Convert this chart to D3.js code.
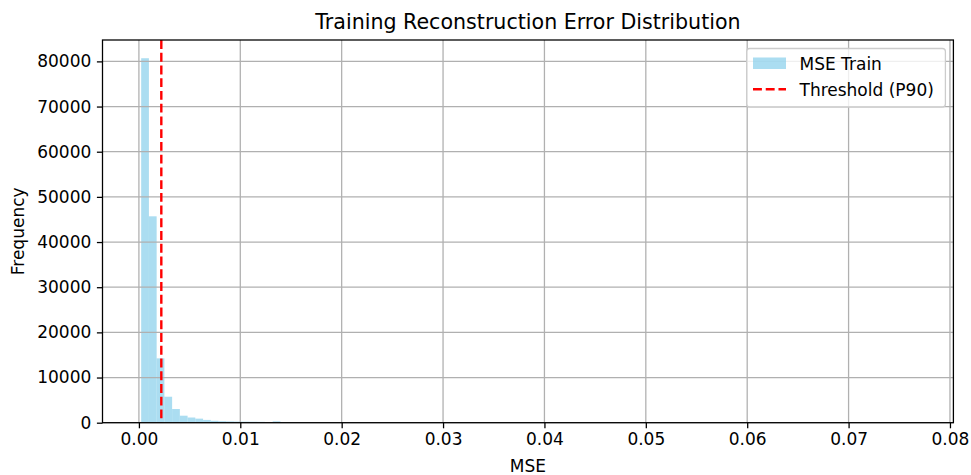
<!DOCTYPE html>
<html>
<head>
<meta charset="utf-8">
<script src="https://cdn.jsdelivr.net/npm/d3@7"></script>
<style>
  html, body { margin: 0; padding: 0; background: #fff; }
  svg text { font-family: "DejaVu Sans", sans-serif; fill: #000; }
</style>
</head>
<body>
<svg id="chart" width="971" height="475"></svg>
<script>
// histogram of training MSE, 100 bins
const binStart = 0.000224;
const binWidth = 0.000763;
const counts = [
  80700, 45700, 14250, 5750, 3030, 1550, 1150, 900, 620, 420,
  330, 280, 250, 230, 210, 190, 40, 300, 60, 30,
  20, 15, 10, 8, 6, 5, 4, 3, 3, 2,
  2, 2, 1, 1, 1, 1, 0, 1, 0, 1,
  0, 0, 1, 0, 0, 1, 0, 0, 0, 1,
  0, 0, 0, 0, 1, 0, 0, 0, 0, 0,
  1, 0, 0, 0, 0, 0, 0, 0, 0, 0,
  0, 1, 0, 0, 0, 0, 0, 0, 0, 0,
  0, 0, 0, 0, 0, 0, 0, 0, 0, 0,
  0, 0, 0, 0, 0, 0, 0, 0, 0, 1
];
const threshold = 0.00221;
const xTicks = [0, 0.01, 0.02, 0.03, 0.04, 0.05, 0.06, 0.07, 0.08];
const yTicks = [0, 10000, 20000, 30000, 40000, 50000, 60000, 70000, 80000];
const legendLabels = ["MSE Train", "Threshold (P90)"];

const bins = counts.map((c, i) => ({ x0: binStart + i * binWidth, x1: binStart + (i + 1) * binWidth, count: c }));

const svg = d3.select("#chart");
const plot = { left: 102.5, right: 953.4, top: 40, bottom: 422.7 };
const fs = 17;

// matplotlib style 5% margins on x, 5% headroom on y
const dataMin = bins[0].x0, dataMax = bins[bins.length - 1].x1;
const pad = (dataMax - dataMin) * 0.05;
const x = d3.scaleLinear().domain([dataMin - pad, dataMax + pad]).range([plot.left, plot.right]);
const y = d3.scaleLinear().domain([0, d3.max(counts) * 1.05]).range([plot.bottom, plot.top]);

const g = svg.append("g");

// bars
g.append("g").selectAll("rect").data(bins).join("rect")
  .attr("x", d => x(d.x0))
  .attr("width", d => x(d.x1) - x(d.x0))
  .attr("y", d => y(d.count))
  .attr("height", d => plot.bottom - y(d.count))
  .attr("fill", "skyblue")
  .attr("fill-opacity", 0.7);

// grid (above bars like matplotlib)
const grid = g.append("g").attr("stroke", "#b0b0b0").attr("stroke-width", 1.28);
grid.selectAll(".vg").data(xTicks).join("line").attr("class", "vg")
  .attr("x1", d => x(d)).attr("x2", d => x(d))
  .attr("y1", plot.top).attr("y2", plot.bottom);
grid.selectAll(".hg").data(yTicks).join("line").attr("class", "hg")
  .attr("x1", plot.left).attr("x2", plot.right)
  .attr("y1", d => y(d)).attr("y2", d => y(d));

// threshold line
g.append("line")
  .attr("x1", x(threshold)).attr("x2", x(threshold))
  .attr("y1", plot.top).attr("y2", plot.bottom)
  .attr("stroke", "red").attr("stroke-width", 2.4)
  .attr("stroke-dasharray", "8.9,3.84");

// axes
const xAxis = d3.axisBottom(x).tickValues(xTicks).tickFormat(d3.format(".2f")).tickSize(5.6).tickPadding(4.5);
const yAxis = d3.axisLeft(y).tickValues(yTicks).tickFormat(d3.format("d")).tickSize(5.6).tickPadding(5.6);

const gx = svg.append("g").attr("transform", `translate(0,${plot.bottom})`).call(xAxis);
const gy = svg.append("g").attr("transform", `translate(${plot.left},0)`).call(yAxis);
[gx, gy].forEach(a => {
  a.select(".domain").remove();
  a.selectAll(".tick line").attr("stroke", "#000").attr("stroke-width", 1.28);
  a.selectAll(".tick text").style("font-size", fs + "px").attr("fill", "#000");
});

// spines
svg.append("rect")
  .attr("x", plot.left).attr("y", plot.top)
  .attr("width", plot.right - plot.left).attr("height", plot.bottom - plot.top)
  .attr("fill", "none").attr("stroke", "#000").attr("stroke-width", 1.28);

// title and labels
svg.append("text")
  .attr("x", (plot.left + plot.right) / 2).attr("y", 28.5)
  .attr("text-anchor", "middle")
  .style("font-size", "20.6px")
  .text("Training Reconstruction Error Distribution");

svg.append("text")
  .attr("x", (plot.left + plot.right) / 2).attr("y", 471.5)
  .attr("text-anchor", "middle")
  .style("font-size", fs + "px")
  .text("MSE");

svg.append("text")
  .attr("transform", `translate(24,${(plot.top + plot.bottom) / 2}) rotate(-90)`)
  .attr("text-anchor", "middle")
  .style("font-size", fs + "px")
  .text("Frequency");

// legend
const lg = svg.append("g");
lg.append("rect")
  .attr("x", 746.7).attr("y", 48.5)
  .attr("width", 945.4 - 746.7).attr("height", 58.5)
  .attr("rx", 3).attr("ry", 3)
  .attr("fill", "#fff").attr("fill-opacity", 0.8)
  .attr("stroke", "#cccccc").attr("stroke-width", 1.28);

lg.append("rect")
  .attr("x", 753).attr("y", 57.5)
  .attr("width", 33).attr("height", 11.5)
  .attr("fill", "skyblue").attr("fill-opacity", 0.7);

lg.append("line")
  .attr("x1", 753).attr("x2", 786)
  .attr("y1", 89.3).attr("y2", 89.3)
  .attr("stroke", "red").attr("stroke-width", 2.4)
  .attr("stroke-dasharray", "8.9,3.84");

lg.selectAll(".lt").data(legendLabels).join("text").attr("class", "lt")
  .attr("x", 799.5)
  .attr("y", (d, i) => 69.5 + i * 26)
  .style("font-size", fs + "px")
  .text(d => d);
</script>
</body>
</html>
